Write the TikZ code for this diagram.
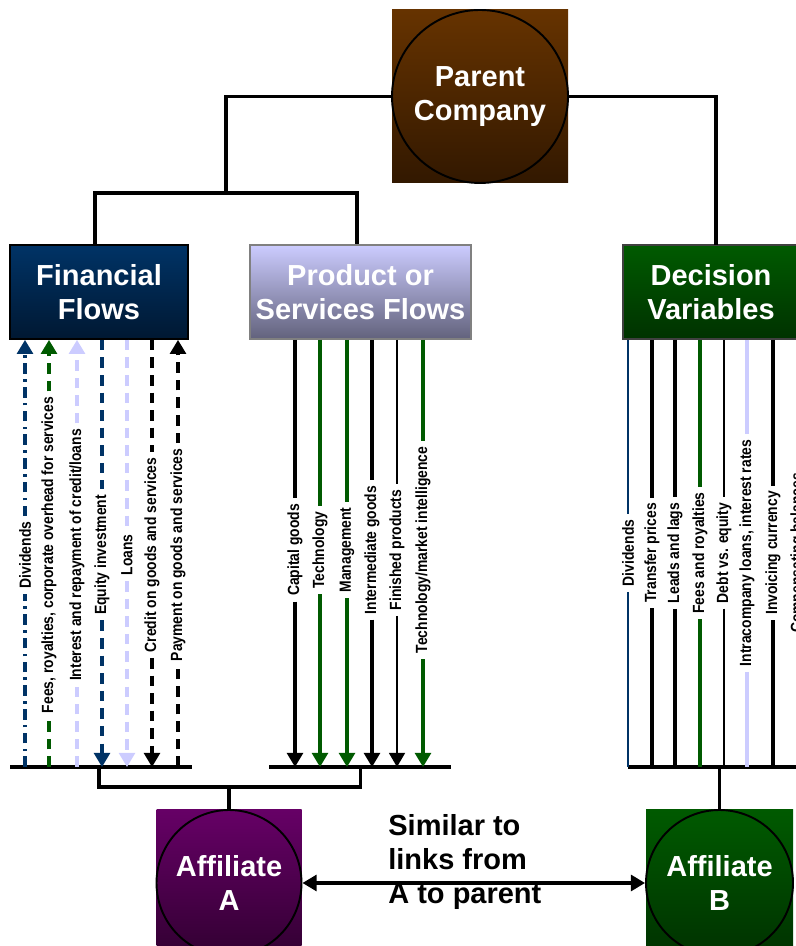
\documentclass[tikz,border=0pt]{standalone}
\usepackage{fontspec}
\setmainfont{Liberation Sans}
\newfontfamily\narrowsans[FakeStretch=0.86]{Liberation Sans}
\usetikzlibrary{shapes}
\usetikzlibrary{positioning}
\usetikzlibrary{arrows.meta}
\definecolor{navyflow}{RGB}{0,51,102}
\definecolor{navydark}{RGB}{0,24,50}
\definecolor{leafgreen}{RGB}{0,90,0}
\definecolor{leafdark}{RGB}{0,50,0}
\definecolor{flowlav}{RGB}{204,204,255}
\definecolor{slatelav}{RGB}{98,98,124}
\definecolor{brownflow}{RGB}{102,51,0}
\definecolor{browndark}{RGB}{50,24,0}
\definecolor{affpurple}{RGB}{102,0,102}
\definecolor{affpurpledark}{RGB}{50,0,50}
\tikzset{
    colorbox/.style = {rectangle, line width=1pt, draw=black, inner sep=0pt, minimum width=3.56cm, minimum height=1.88cm, align=center, text=white, font=\fontsize{16.5}{19.5}\selectfont\bfseries},
    finbox/.style = {colorbox, top color=navyflow, bottom color=navydark},
    prodbox/.style = {colorbox, draw=gray, minimum width=4.42cm, top color=flowlav, bottom color=slatelav},
    decbox/.style = {colorbox, draw=darkgray, minimum width=3.52cm, top color=leafgreen, bottom color=leafdark},
    tilebox/.style = {rectangle, inner sep=0pt, align=center, text=white, font=\fontsize{16.5}{19.5}\selectfont\bfseries},
    parentbox/.style = {tilebox, minimum width=3.52cm, minimum height=3.46cm, top color=brownflow, bottom color=browndark},
    affabox/.style = {tilebox, minimum width=2.9cm, minimum height=2.92cm, top color=affpurple, bottom color=affpurpledark},
    affbbox/.style = {tilebox, minimum width=2.94cm, minimum height=2.92cm, top color=leafgreen, bottom color=leafdark},
    ring/.style = {ellipse, line width=1.1pt, draw=black, inner sep=0pt},
    link/.style = {line width=1.8pt, draw=black},
    rail/.style = {line width=1.8pt, draw=black},
    flowlabel/.style = {rotate=90, fill=white, inner xsep=3pt, inner ysep=1pt, font=\narrowsans\fontsize{9.2}{10}\selectfont\bfseries},
    flow/.style = {line width=1.8pt},
    flowtip/.style = {-{Triangle[width=9pt,length=8pt]}},
    flowdash/.style = {dash pattern=on 6pt off 4pt}, % dashed flows
    flowdashdot/.style = {dash pattern=on 6pt off 3pt on 1.5pt off 3pt}, % dividends
    twoway/.style = {{Triangle[width=9pt,length=8pt]}-{Triangle[width=9pt,length=8pt]}, line width=1.8pt},
    note/.style = {align=left, inner sep=0pt, font=\fontsize{16.5}{19.3}\selectfont\bfseries}
}
\begin{document}
\begin{tikzpicture}
\useasboundingbox (0,0) rectangle (15.9,18.92);

% parent and the three groups
\node[parentbox] at (9.60,16.99) (parentbg) {Parent\\Company};
\node[ring,minimum width=3.52cm,minimum height=3.46cm] at (parentbg) (parent) {};

\node[finbox] at (1.98,13.08) (fin) {Financial\\Flows};
\node[prodbox] at (7.21,13.08) (prod) {Product or\\Services Flows};
\node[decbox] at (14.22,13.08) (dec) {Decision\\Variables};

\coordinate (split) at (4.52,15.06);
\coordinate (decin) at (14.32,14.02);
\draw[link] (parent.west) -| (split);
\draw[link] ([xshift=-0.08cm]fin.north) |- (split) -| ([xshift=-0.07cm]prod.north);
\draw[link] (parent.east) -| (decin);

% rails
\coordinate (finbase) at (1.98,3.58);
\coordinate (prodbase) at (7.21,3.58);
\coordinate (decbase) at (14.34,3.58);
\draw[rail] (0.2,3.58) -- (3.84,3.58);
\draw[rail] (5.38,3.58) -- (9.02,3.58);
\draw[rail] (12.56,3.58) -- (16.0,3.58);

% financial flows
\node[flowlabel] at (0.50,7.82) (findiv) {Dividends};
\node[flowlabel] at (0.98,7.82) (finfees) {Fees, royalties, corporate overhead for services};
\node[flowlabel] at (1.54,7.82) (finint) {Interest and repayment of credit/loans};
\node[flowlabel] at (2.04,7.82) (finequity) {Equity investment};
\node[flowlabel] at (2.54,7.82) (finloans) {Loans};
\node[flowlabel] at (3.04,7.82) (fincredit) {Credit on goods and services};
\node[flowlabel] at (3.56,7.82) (finpay) {Payment on goods and services};

\draw[flow,flowtip,navyflow,flowdashdot] (findiv |- finbase) -- (findiv) -- (findiv |- fin.south);
\draw[flow,flowtip,leafgreen,flowdash] (finfees |- finbase) -- (finfees) -- (finfees |- fin.south);
\draw[flow,flowtip,flowlav,flowdash] (finint |- finbase) -- (finint) -- (finint |- fin.south);
\draw[flow,flowtip,navyflow,flowdash] (finequity |- fin.south) -- (finequity) -- (finequity |- finbase);
\draw[flow,flowtip,flowlav,flowdash] (finloans |- fin.south) -- (finloans) -- (finloans |- finbase);
\draw[flow,flowtip,black,flowdash] (fincredit |- fin.south) -- (fincredit) -- (fincredit |- finbase);
\draw[flow,flowtip,black,flowdash] (finpay |- finbase) -- (finpay) -- (finpay |- fin.south);

% product or services flows
\node[flowlabel] at (5.90,7.92) (prodcap) {Capital goods};
\node[flowlabel] at (6.40,7.92) (prodtech) {Technology};
\node[flowlabel] at (6.94,7.92) (prodmgmt) {Management};
\node[flowlabel] at (7.44,7.92) (prodinter) {Intermediate goods};
\node[flowlabel] at (7.94,7.92) (prodfinished) {Finished products};
\node[flowlabel] at (8.46,7.92) (prodmarket) {Technology/market intelligence};

\draw[flow,flowtip,black] (prodcap |- prod.south) -- (prodcap) -- (prodcap |- prodbase);
\draw[flow,flowtip,leafgreen] (prodtech |- prod.south) -- (prodtech) -- (prodtech |- prodbase);
\draw[flow,flowtip,leafgreen] (prodmgmt |- prod.south) -- (prodmgmt) -- (prodmgmt |- prodbase);
\draw[flow,flowtip,black] (prodinter |- prod.south) -- (prodinter) -- (prodinter |- prodbase);
\draw[flow,flowtip,black,line width=1.2pt] (prodfinished |- prod.south) -- (prodfinished) -- (prodfinished |- prodbase);
\draw[flow,flowtip,leafgreen] (prodmarket |- prod.south) -- (prodmarket) -- (prodmarket |- prodbase);

% decision variables
\node[flowlabel] at (12.56,7.86) (decdiv) {Dividends};
\node[flowlabel] at (13.04,7.86) (dectransfer) {Transfer prices};
\node[flowlabel] at (13.50,7.86) (decleads) {Leads and lags};
\node[flowlabel] at (14.00,7.86) (decfees) {Fees and royalties};
\node[flowlabel] at (14.48,7.86) (decdebt) {Debt vs. equity};
\node[flowlabel] at (14.94,7.86) (decloans) {Intracompany loans, interest rates};
\node[flowlabel] at (15.46,7.86) (decinvoice) {Invoicing currency};
\node[flowlabel] at (15.96,7.86) (deccomp) {Compensating balances};

\draw[flow,navyflow,line width=1.3pt] (decdiv |- dec.south) -- (decdiv) -- (decdiv |- decbase);
\draw[flow,black] (dectransfer |- dec.south) -- (dectransfer) -- (dectransfer |- decbase);
\draw[flow,black] (decleads |- dec.south) -- (decleads) -- (decleads |- decbase);
\draw[flow,leafgreen] (decfees |- dec.south) -- (decfees) -- (decfees |- decbase);
\draw[flow,black,line width=1.2pt] (decdebt |- dec.south) -- (decdebt) -- (decdebt |- decbase);
\draw[flow,flowlav] (decloans |- dec.south) -- (decloans) -- (decloans |- decbase);
\draw[flow,black] (decinvoice |- dec.south) -- (decinvoice) -- (decinvoice |- decbase);
\draw[flow,black] (deccomp |- dec.south) -- (deccomp) -- (deccomp |- decbase);

% affiliates
\node[affabox] at (4.58,1.26) (affAbg) {Affiliate\\A};
\node[ring,minimum width=2.9cm,minimum height=2.92cm] at (affAbg) (affA) {};
\node[affbbox] at (14.39,1.26) (affBbg) {Affiliate\\B};
\node[ring,minimum width=2.94cm,minimum height=2.92cm] at (affBbg) (affB) {};

\coordinate (join) at (4.58,3.18);
\draw[link] (finbase) |- (join) -| (prodbase);
\draw[link] (join) -- (affA.north);
\draw[link] (affB.north |- decbase) -- (affB.north);

\draw[twoway] (affA.east) -- (affB.west);
\node[note,anchor=west] at (7.76,1.68) (similar) {Similar to\\links from\\A to parent};
\end{tikzpicture}
\end{document}
